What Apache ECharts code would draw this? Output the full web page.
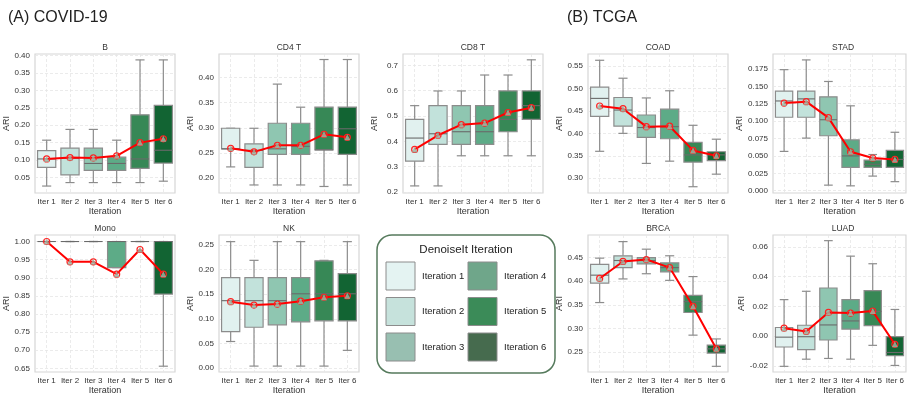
<!DOCTYPE html>
<html><head><meta charset="utf-8">
<script src="https://cdn.jsdelivr.net/npm/echarts@6/dist/echarts.min.js"></script>
<style>html,body{margin:0;padding:0;background:#fff}#c{width:907px;height:396px}</style>
</head><body><div id="c"></div>
<script>
// ---------------- DATA ----------------
const categories = ['Iter 1', 'Iter 2', 'Iter 3', 'Iter 4', 'Iter 5', 'Iter 6'];
const legendLabels = ['Iteration 1', 'Iteration 2', 'Iteration 3', 'Iteration 4', 'Iteration 5', 'Iteration 6'];
// box stats per iteration: [min, q1, median, q3, max]
const B_box = [[0.025,0.079,0.103,0.127,0.157],[0.035,0.057,0.105,0.134,0.188],[0.035,0.070,0.090,0.134,0.188],[0.035,0.070,0.090,0.108,0.157],[0.035,0.076,0.103,0.230,0.388],[0.039,0.091,0.128,0.257,0.388]];
const B_mean = [0.103,0.107,0.106,0.112,0.150,0.161];
const B_ticks = [0.05,0.10,0.15,0.20,0.25,0.30,0.35,0.40];

const CD4_box = [[0.222,0.258,0.258,0.299,0.299],[0.186,0.221,0.255,0.268,0.299],[0.186,0.247,0.258,0.309,0.387],[0.186,0.247,0.263,0.309,0.341],[0.183,0.256,0.256,0.341,0.436],[0.186,0.247,0.298,0.341,0.436]];
const CD4_mean = [0.259,0.252,0.265,0.265,0.287,0.281];
const CD4_ticks = [0.20,0.25,0.30,0.35,0.40];

const CD8_box = [[0.224,0.322,0.413,0.487,0.541],[0.224,0.388,0.430,0.541,0.599],[0.343,0.388,0.438,0.541,0.599],[0.343,0.388,0.438,0.541,0.662],[0.343,0.438,0.487,0.599,0.662],[0.343,0.487,0.541,0.599,0.722]];
const CD8_mean = [0.368,0.424,0.466,0.472,0.514,0.533];
const CD8_ticks = [0.2,0.3,0.4,0.5,0.6,0.7];

const Mono_box = [[1.0,1.0,1.0,1.0,1.0],[1.0,1.0,1.0,1.0,1.0],[1.0,1.0,1.0,1.0,1.0],[0.928,0.928,1.0,1.0,1.0],[1.0,1.0,1.0,1.0,1.0],[0.656,0.855,1.0,1.0,1.0]];
const Mono_mean = [1.0,0.944,0.944,0.910,0.978,0.910];
const Mono_ticks = [0.65,0.70,0.75,0.80,0.85,0.90,0.95,1.00];

const NK_box = [[0.054,0.074,0.137,0.184,0.257],[0.004,0.083,0.137,0.184,0.219],[0.004,0.088,0.137,0.184,0.257],[0.004,0.094,0.151,0.184,0.257],[0.004,0.096,0.151,0.218,0.219],[0.036,0.096,0.151,0.192,0.257]];
const NK_mean = [0.135,0.128,0.130,0.136,0.144,0.147];
const NK_ticks = [0.00,0.05,0.10,0.15,0.20,0.25];

const COAD_box = [[0.360,0.438,0.478,0.503,0.563],[0.400,0.416,0.452,0.480,0.523],[0.333,0.391,0.413,0.441,0.479],[0.338,0.388,0.415,0.454,0.495],[0.281,0.336,0.352,0.380,0.418],[0.309,0.339,0.352,0.359,0.387]];
const COAD_mean = [0.461,0.455,0.415,0.416,0.362,0.350];
const COAD_ticks = [0.30,0.35,0.40,0.45,0.50,0.55];

const STAD_box = [[0.0565,0.1056,0.129,0.143,0.174],[0.0756,0.1056,0.132,0.143,0.188],[0.008,0.079,0.102,0.135,0.157],[0.007,0.0335,0.050,0.073,0.122],[0.021,0.0335,0.038,0.044,0.052],[0.013,0.0335,0.045,0.058,0.084]];
const STAD_mean = [0.126,0.128,0.105,0.056,0.047,0.045];
const STAD_ticks = [0.000,0.025,0.050,0.075,0.100,0.125,0.150,0.175];

const BRCA_box = [[0.355,0.396,0.413,0.436,0.449],[0.405,0.429,0.444,0.454,0.484],[0.416,0.437,0.444,0.450,0.468],[0.402,0.420,0.429,0.439,0.454],[0.286,0.334,0.357,0.370,0.410],[0.220,0.248,0.257,0.265,0.278]];
const BRCA_mean = [0.406,0.442,0.446,0.429,0.347,0.257];
const BRCA_ticks = [0.25,0.30,0.35,0.40,0.45];

const LUAD_box = [[-0.0202,-0.0072,-0.0006,0.0059,0.0246],[-0.0154,-0.0090,-0.0003,0.0074,0.0302],[-0.0149,-0.0025,0.0076,0.0324,0.0642],[-0.0154,0.0048,0.0103,0.0246,0.0538],[-0.0061,0.0072,0.0167,0.0306,0.0487],[-0.0196,-0.0131,-0.0109,-0.0003,0.0180]];
const LUAD_mean = [0.0054,0.0032,0.0160,0.0156,0.0169,-0.0054];
const LUAD_ticks = [-0.02,0.00,0.02,0.04,0.06];

// ---------------- STYLE / LAYOUT ----------------
const boxColors = ['#e1f1ef', '#c2e2db', '#8fc6b1', '#5dab87', '#378856', '#126433'];
const legendColors = ['#e4f3f2', '#c6e2dc', '#98bfb1', '#6fa68a', '#3b8b58', '#466b4e'];
const FONT = '"Liberation Sans", Arial, sans-serif';

const panels = [
  {title:'B',     box:B_box,    mean:B_mean,    ticks:B_ticks,    dec:2, min:0.005,  max:0.405,  left:35,  top:54},
  {title:'CD4 T', box:CD4_box,  mean:CD4_mean,  ticks:CD4_ticks,  dec:2, min:0.170,  max:0.447,  left:219, top:54},
  {title:'CD8 T', box:CD8_box,  mean:CD8_mean,  ticks:CD8_ticks,  dec:1, min:0.196,  max:0.745,  left:403, top:54},
  {title:'COAD',  box:COAD_box, mean:COAD_mean, ticks:COAD_ticks, dec:2, min:0.267,  max:0.577,  left:588, top:54},
  {title:'STAD',  box:STAD_box, mean:STAD_mean, ticks:STAD_ticks, dec:3, min:-0.0033,max:0.1965, left:773, top:54},
  {title:'Mono',  box:Mono_box, mean:Mono_mean, ticks:Mono_ticks, dec:2, min:0.640,  max:1.018,  left:35,  top:235},
  {title:'NK',    box:NK_box,   mean:NK_mean,   ticks:NK_ticks,   dec:2, min:-0.008, max:0.2705, left:219, top:235},
  {title:'BRCA',  box:BRCA_box, mean:BRCA_mean, ticks:BRCA_ticks, dec:2, min:0.208,  max:0.498,  left:588, top:235},
  {title:'LUAD',  box:LUAD_box, mean:LUAD_mean, ticks:LUAD_ticks, dec:2, min:-0.024, max:0.068,  left:773, top:235}
];
const PW = 140, PH = 139;
const catIdx = categories.map((c, i) => i);

function renderBox(params, api) {
  const i = api.value(0);
  const band = api.size([1, 0])[0];
  const bw = band * 0.78, cw = bw * 0.5;
  const pMd = api.coord([i, api.value(3)]);
  const x = pMd[0];
  const yMin = api.coord([i, api.value(1)])[1];
  const yQ1 = api.coord([i, api.value(2)])[1];
  const yQ3 = api.coord([i, api.value(4)])[1];
  const yMax = api.coord([i, api.value(5)])[1];
  const ls = {stroke: '#8c8c8c', lineWidth: 1.2};
  return {type: 'group', children: [
    {type: 'line', shape: {x1: x, y1: yQ3, x2: x, y2: yMax}, style: ls},
    {type: 'line', shape: {x1: x, y1: yQ1, x2: x, y2: yMin}, style: ls},
    {type: 'line', shape: {x1: x - cw / 2, y1: yMax, x2: x + cw / 2, y2: yMax}, style: ls},
    {type: 'line', shape: {x1: x - cw / 2, y1: yMin, x2: x + cw / 2, y2: yMin}, style: ls},
    {type: 'rect', shape: {x: x - bw / 2, y: yQ3, width: bw, height: yQ1 - yQ3}, style: {fill: boxColors[i], stroke: '#8c8c8c', lineWidth: 1.2}},
    {type: 'line', shape: {x1: x - bw / 2, y1: pMd[1], x2: x + bw / 2, y2: pMd[1]}, style: {stroke: '#6a6a6a', lineWidth: 1.1}}
  ]};
}

const grid = [], xAxis = [], yAxis = [], series = [], graphic = [];
const dashed = {show: true, lineStyle: {color: '#e6e6e6', width: 0.8, type: [3, 2]}};
panels.forEach((p, k) => {
  grid.push({left: p.left, top: p.top, width: PW, height: PH, show: true, borderColor: '#d6d6d6', borderWidth: 1.2, backgroundColor: '#fff'});
  xAxis.push({
    type: 'value', gridIndex: k, min: -0.5, max: 5.5,
    axisLine: {show: false}, axisTick: {show: false, customValues: catIdx},
    axisLabel: {customValues: catIdx, formatter: v => categories[Math.round(v)], fontSize: 8, color: '#333', margin: 5, fontFamily: FONT},
    splitLine: dashed,
    name: 'Iteration', nameLocation: 'middle', nameGap: 14,
    nameTextStyle: {fontSize: 9, color: '#333', fontFamily: FONT}
  });
  yAxis.push({
    type: 'value', gridIndex: k, min: p.min, max: p.max,
    axisLine: {show: false}, axisTick: {show: false, customValues: p.ticks},
    axisLabel: {customValues: p.ticks, formatter: v => v.toFixed(p.dec), fontSize: 8, color: '#333', margin: 5, fontFamily: FONT},
    splitLine: dashed,
    name: 'ARI', nameLocation: 'middle', nameGap: 24,
    nameTextStyle: {fontSize: 9, color: '#333', fontFamily: FONT}
  });
  series.push({
    type: 'custom', xAxisIndex: k, yAxisIndex: k, renderItem: renderBox,
    encode: {x: 0, y: [1, 2, 3, 4, 5]},
    data: p.box.map((b, i) => [i].concat(b)), z: 2
  });
  series.push({
    type: 'line', xAxisIndex: k, yAxisIndex: k,
    data: p.mean.map((m, i) => [i, m]),
    lineStyle: {color: '#ff0000', width: 2},
    symbol: 'circle', symbolSize: 6,
    itemStyle: {color: 'rgba(255,255,255,0)', borderColor: '#ff2020', borderWidth: 1.2},
    z: 5
  });
  series.push({
    type: 'scatter', xAxisIndex: k, yAxisIndex: k,
    data: p.mean.map((m, i) => [i, m]),
    symbol: 'triangle', symbolSize: 6,
    itemStyle: {color: '#9bb8a6'}, z: 6
  });
  graphic.push({type: 'text', x: p.left + PW / 2, y: p.top - 6,
    style: {text: p.title, fontSize: 8.5, fill: '#333', fontFamily: FONT, textAlign: 'center', textVerticalAlign: 'middle'}});
});

graphic.push({type: 'text', x: 8, y: 18, style: {text: '(A) COVID-19', fontSize: 16, fill: '#222', fontFamily: FONT, textVerticalAlign: 'middle'}});
graphic.push({type: 'text', x: 567, y: 18, style: {text: '(B) TCGA', fontSize: 16, fill: '#222', fontFamily: FONT, textVerticalAlign: 'middle'}});

// legend box
graphic.push({type: 'rect', shape: {x: 377, y: 235, width: 178, height: 138, r: 15},
  style: {fill: '#fff', stroke: '#557a5c', lineWidth: 1.5}});
graphic.push({type: 'text', x: 466, y: 250, style: {text: 'DenoiseIt Iteration', fontSize: 11.5, fill: '#222', fontFamily: FONT, textAlign: 'center', textVerticalAlign: 'middle'}});
legendLabels.forEach((lab, i) => {
  const col = Math.floor(i / 3), row = i % 3;
  const px = 386 + col * 82, py = 262 + row * 35.5;
  graphic.push({type: 'rect', shape: {x: px, y: py, width: 29, height: 28},
    style: {fill: legendColors[i], stroke: '#8c8c8c', lineWidth: 1}});
  graphic.push({type: 'text', x: px + 36, y: py + 14,
    style: {text: lab, fontSize: 9.5, fill: '#222', fontFamily: FONT, textVerticalAlign: 'middle'}});
});

const chart = echarts.init(document.getElementById('c'), null, {renderer: 'canvas'});
chart.setOption({animation: false, backgroundColor: '#fff', grid, xAxis, yAxis, series, graphic});
</script>
</body></html>
